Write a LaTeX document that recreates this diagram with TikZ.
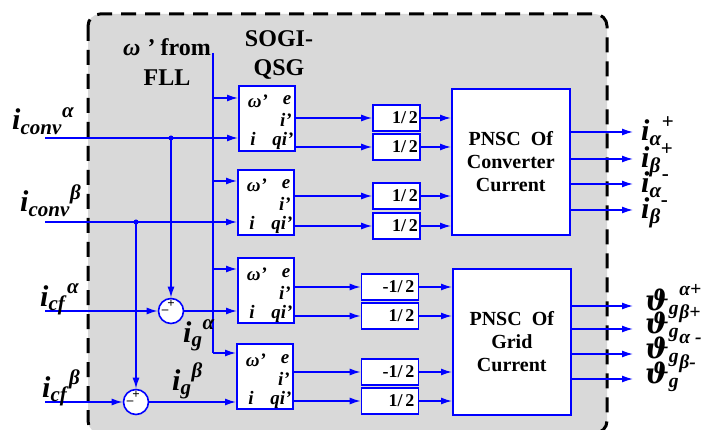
\RequirePackage{fix-cm}
\documentclass[tikz,border=0pt]{standalone}
\usepackage{amsmath}
\usepackage{fontspec}
\setmainfont{Liberation Serif}
\newfontfamily\dejavu{DejaVu Serif}
\usetikzlibrary{arrows.meta,calc}
\newcommand{\bi}[1]{\textbf{\textit{#1}}}
\newcommand{\vth}{\text{\dejavu\bfseries\itshape ϑ}}

\begin{document}
\begin{tikzpicture}[x=1pt,y=-1pt,>={Latex[length=11pt,width=7pt]},
  sig/.style={blue,line width=1.4pt},
  bloc/.style={draw=blue,line width=1.6pt,fill=white,inner sep=0pt},
  sogi/.style={bloc,anchor=north west,minimum width=56pt,minimum height=65pt},
  gain/.style={bloc,minimum height=26pt,align=right,font=\fontsize{18}{20}\bfseries\selectfont},
  gaina/.style={gain,minimum width=47pt,text width=43pt},
  gainb/.style={gain,minimum width=57pt,text width=49pt},
  pnsc/.style={bloc,anchor=north west,minimum width=118pt,minimum height=146pt,align=center,font=\fontsize{20}{23}\bfseries\selectfont},
  somme/.style={circle,draw=blue,line width=1.6pt,fill=white,minimum size=25pt,inner sep=0pt},
  port/.style={anchor=base,inner sep=0pt,font=\fontsize{19}{21}\bfseries\itshape\selectfont},
  signe/.style={inner sep=0pt,font=\fontsize{13}{13}\bfseries\selectfont},
  lbl/.style={anchor=base west,inner sep=0pt,font=\fontsize{30}{34}\selectfont}]

  \useasboundingbox (0,0) rectangle (701,430);
  % Cadre
  \draw[line width=3pt,dash pattern=on 15pt off 9pt,rounded corners=12pt,fill=gray!30] (88,14) rectangle (607,433);

  % Titres
  \node[align=center,font=\fontsize{24}{30}\bfseries\selectfont] (fll) at (167,62) {\textit{ω '} from\\FLL};
  \node[align=center,font=\fontsize{24}{29}\bfseries\selectfont] (titre) at (279,55) {SOGI-\\QSG};

  % Blocs SOGI-QSG
  \node[sogi] (s1) at (238,85) {};
  \node[sogi] (s2) at (237,169) {};
  \node[sogi] (s3) at (237,257) {};
  \node[sogi] (s4) at (236,343) {};
  \foreach \b in {s1,s2,s3,s4}{
    \node[port] (\b-lw) at ($(\b.north west)+(20,23)$) {ω'};
    \node[port] (\b-le) at ($(\b.north west)+(49,20)$) {e};
    \node[port] (\b-lip) at ($(\b.north west)+(48,42)$) {i'};
    \node[port] (\b-li) at ($(\b.north west)+(15,61)$) {i};
    \node[port] (\b-lq) at ($(\b.north west)+(45,61)$) {qi'};
  }

  % Gains
  \node[gaina] (g1) at (396.5,118) {1/\,2};
  \node[gaina] (g2) at (396.5,147) {1/\,2};
  \node[gaina] (g3) at (396.5,196) {1/\,2};
  \node[gaina] (g4) at (396.5,226) {1/\,2};
  \node[gainb] (g5) at (390,287) {-1/\,2};
  \node[gainb] (g6) at (390,316) {1/\,2};
  \node[gainb] (g7) at (390,372) {-1/\,2};
  \node[gainb] (g8) at (390,401) {1/\,2};

  % Blocs PNSC
  \node[pnsc] (p1) at (451,88) {PNSC\enspace Of\\Converter\\Current};
  \node[pnsc] (p2) at (452,268) {PNSC\enspace Of\\Grid\\Current};

  % omega' venant de la FLL
  \coordinate (fll-h) at (213,53);
  \coordinate (fll-b) at (213,353);
  \draw[sig] (fll-h) -- (fll-b);
  \foreach \b/\y in {s1/98,s2/181,s3/269,s4/353}
    \draw[sig,->] (fll-h |- 0,\y) -- (\b.west |- 0,\y);

  % Courants d'entree
  \coordinate (ca) at (45,138);
  \coordinate (cb) at (45,222);
  \coordinate (fa) at (45,311);
  \coordinate (fb) at (45,402);
  \coordinate (da) at (171,138);
  \coordinate (db) at (136,222);
  \node[somme] (suba) at (171,311) {};
  \node[somme] (subb) at (136,402) {};
  \draw[sig,->] (ca) -- (s1.west |- ca);
  \draw[sig,->] (cb) -- (s2.west |- cb);
  \draw[sig,->] (da) -- (suba.north);
  \draw[sig,->] (db) -- (subb.north);
  \draw[sig,->] (fa) -- (suba.west);
  \draw[sig,->] (fb) -- (subb.west);
  \draw[sig,->] (suba.east) -- (s3.west |- suba);
  \draw[sig,->] (subb.east) -- (s4.west |- subb);
  \fill[blue] (da) circle (2.5pt) (db) circle (2.5pt);
  \node[signe] (suba-p) at ($(suba)+(0,-7)$) {+};
  \node[signe] (suba-m) at ($(suba)+(-6,1)$) {--};
  \node[signe] (subb-p) at ($(subb)+(0,-7)$) {+};
  \node[signe] (subb-m) at ($(subb)+(-6,1)$) {--};

  % SOGI -> gains -> PNSC
  \foreach \s/\g in {s1/g1,s1/g2,s2/g3,s2/g4,s3/g5,s3/g6,s4/g7,s4/g8}
    \draw[sig,->] (\g.west -| \s.east) -- (\g.west);
  \foreach \g/\p in {g1/p1,g2/p1,g3/p1,g4/p1,g5/p2,g6/p2,g7/p2,g8/p2}
    \draw[sig,->] (\g.east) -- (\g.east -| \p.west);

  % Sorties
  \foreach \y [count=\k] in {132,159,184,210}{
    \coordinate (oc\k) at (633,\y);
    \draw[sig,->] (p1.east |- oc\k) -- (oc\k);
  }
  \foreach \y [count=\k] in {306,329,354,379}{
    \coordinate (og\k) at (633,\y);
    \draw[sig,->] (p2.east |- og\k) -- (og\k);
  }

  % Labels
  \node[lbl] (l-ca) at (12,130) {${\bi{i}_{\bi{conv}}}^{\bi{α}}$};
  \node[lbl] (l-cb) at (20,212) {${\bi{i}_{\bi{conv}}}^{\bi{β}}$};
  \node[lbl] (l-fa) at (40,306) {${\bi{i}_{\bi{cf}}}^{\bi{α}}$};
  \node[lbl] (l-fb) at (42,397) {${\bi{i}_{\bi{cf}}}^{\bi{β}}$};
  \node[lbl] (l-ga) at (183,342) {${\bi{i}_{\bi{g}}}^{\bi{α}}$};
  \node[lbl] (l-gb) at (172,390) {${\bi{i}_{\bi{g}}}^{\bi{β}}$};
  \node[lbl] (l-o1) at (641,141) {${\bi{i}_{\bi{α}}}^{\textbf{+}}$};
  \node[lbl] (l-o2) at (641,168) {${\bi{i}_{\bi{β}}}^{\textbf{+}}$};
  \node[lbl] (l-o3) at (641,193) {${\bi{i}_{\bi{α}}}^{\textbf{-}}$};
  \node[lbl] (l-o4) at (641,219) {${\bi{i}_{\bi{β}}}^{\textbf{-}}$};
  \node[lbl,font=\fontsize{28}{30}\selectfont] (l-v1) at (645,310) {${\vth_{\bi{g}}}^{\bi{α+}}$};
  \node[lbl,font=\fontsize{28}{30}\selectfont] (l-v2) at (645,333) {${\vth_{\bi{g}}}^{\bi{β+}}$};
  \node[lbl,font=\fontsize{28}{30}\selectfont] (l-v3) at (645,358) {${\vth_{\bi{g}}}^{\bi{α -}}$};
  \node[lbl,font=\fontsize{28}{30}\selectfont] (l-v4) at (645,383) {${\vth_{\bi{g}}}^{\bi{β-}}$};
\end{tikzpicture}
\end{document}
